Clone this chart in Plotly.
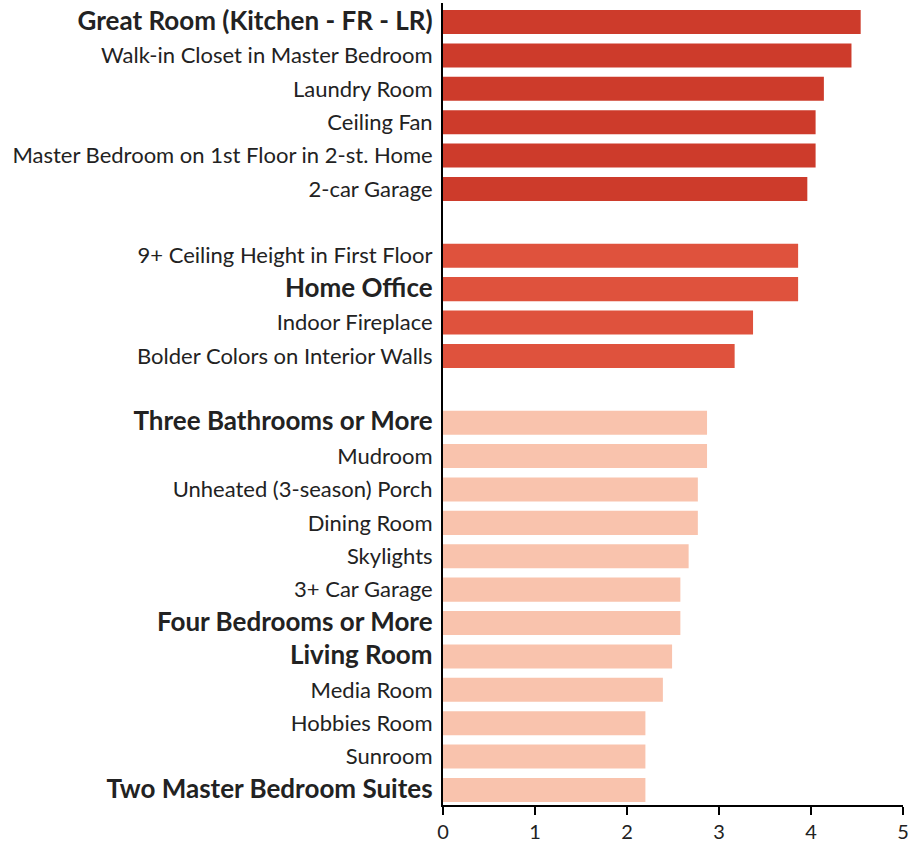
import plotly.graph_objects as go

# Data (top to bottom); blank strings are visual spacers between groups
group1 = ["Great Room (Kitchen - FR - LR)", "Walk-in Closet in Master Bedroom", "Laundry Room",
          "Ceiling Fan", "Master Bedroom on 1st Floor in 2-st. Home", "2-car Garage"]
values1 = [4.54, 4.44, 4.14, 4.05, 4.05, 3.96]

group2 = ["9+ Ceiling Height in First Floor", "Home Office", "Indoor Fireplace",
          "Bolder Colors on Interior Walls"]
values2 = [3.86, 3.86, 3.37, 3.17]

group3 = ["Three Bathrooms or More", "Mudroom", "Unheated (3-season) Porch", "Dining Room",
          "Skylights", "3+ Car Garage", "Four Bedrooms or More", "Living Room", "Media Room",
          "Hobbies Room", "Sunroom", "Two Master Bedroom Suites"]
values3 = [2.87, 2.87, 2.77, 2.77, 2.67, 2.58, 2.58, 2.49, 2.39, 2.20, 2.20, 2.20]

bold_labels = ["Great Room (Kitchen - FR - LR)", "Home Office", "Three Bathrooms or More",
               "Four Bedrooms or More", "Living Room", "Two Master Bedroom Suites"]

colors = ["#cd3b2b", "#df523d", "#f9c3ad"]

categories = group1 + [" "] + group2 + ["  "] + group3

fig = go.Figure()
for names, vals, col in [(group1, values1, colors[0]), (group2, values2, colors[1]), (group3, values3, colors[2])]:
    fig.add_trace(go.Bar(y=names, x=vals, orientation="h", marker=dict(color=col, line=dict(width=0)),
                         width=0.72, showlegend=False, hoverinfo="x+y"))

ticktext = []
for c in categories:
    if c in bold_labels:
        ticktext.append("<span style='font-size:26px'><b>" + c + "</b></span>")
    else:
        ticktext.append(c)

fig.update_layout(
    width=911, height=846,
    margin=dict(l=443, r=8, t=3, b=41, autoexpand=False),
    plot_bgcolor="white", paper_bgcolor="white",
    font=dict(family="Lato, Open Sans, sans-serif", size=22, color="#222222"),
)
fig.update_yaxes(
    type="category", categoryorder="array", categoryarray=categories,
    tickvals=categories, ticktext=ticktext,
    autorange=False, range=[len(categories) - 0.55, -0.57],
    showline=True, linecolor="black", linewidth=2, ticks="", showgrid=False,
    ticklabelstandoff=4, zeroline=False, automargin=False,
)
fig.update_xaxes(
    range=[0, 5], dtick=1, showline=True, linecolor="black", linewidth=2,
    ticks="outside", ticklen=8, tickwidth=2, tickcolor="black", showgrid=False, zeroline=False,
    tickfont=dict(size=20), automargin=False, ticklabelstandoff=0,
)
fig.write_html("out.html", config={"displayModeBar": False},
               post_script="document.body.style.margin='0';document.body.style.overflow='hidden';")
